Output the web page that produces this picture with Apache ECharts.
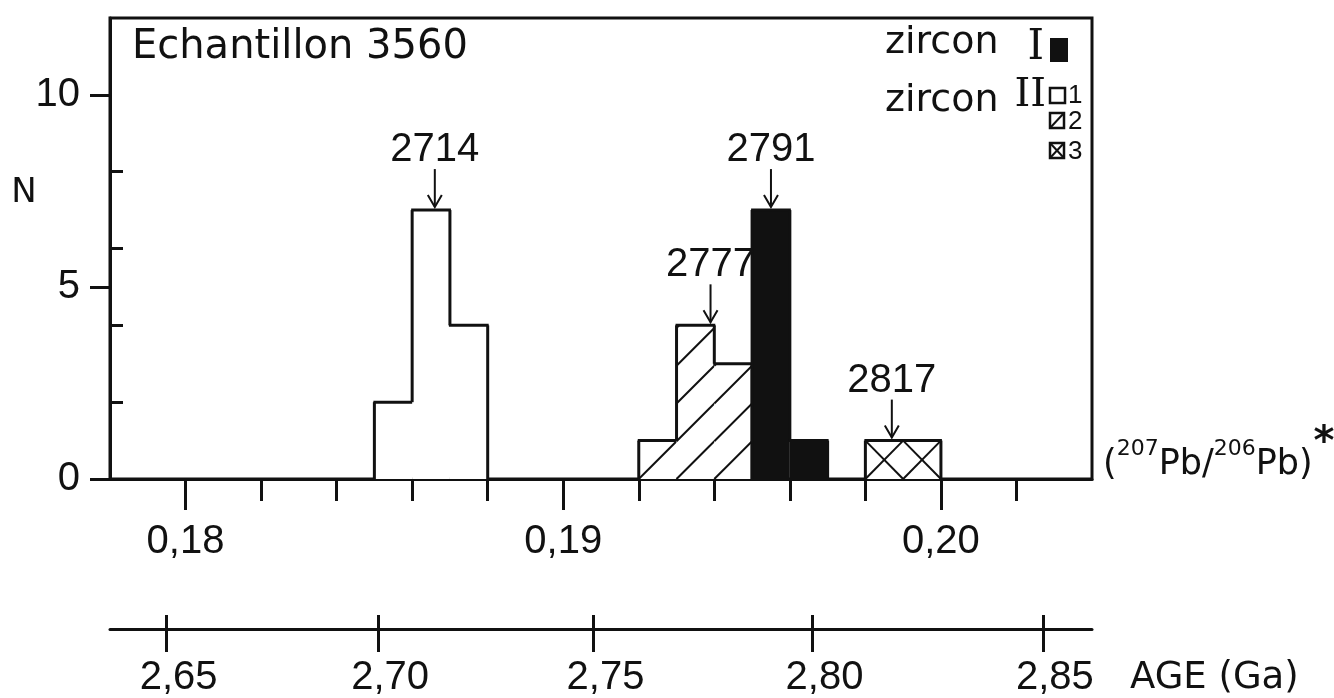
<!DOCTYPE html>
<html><head><meta charset="utf-8">
<script src="https://cdn.jsdelivr.net/npm/echarts@6/dist/echarts.min.js"></script>
<style>html,body{margin:0;padding:0;background:#fff;} #c{width:1334px;height:698px;}</style>
</head><body><div id="c"></div>
<script>
// ---- data ----
const binWidth = 0.001;
const zircon2Type1Bins = [0.185, 0.186, 0.187];
const zircon2Type1Counts = [2, 7, 4];
const zircon2Type2Bins = [0.192, 0.193, 0.194];
const zircon2Type2Counts = [1, 4, 3];
const zircon1Bins = [0.195, 0.196];
const zircon1Counts = [7, 1];
const zircon2Type3Bins = [0.198, 0.199];
const zircon2Type3Counts = [1, 1];
const peakRatios = [0.1866, 0.1939, 0.1955, 0.1987];
const peakCounts = [7, 4, 7, 1];
const peakAges = ['2714', '2777', '2791', '2817'];
const ratioMin = 0.178, ratioMax = 0.204;
const ratioMajorTicks = [0.18, 0.19, 0.20];
const ratioTickLabels = ['0,18', '0,19', '0,20'];
const ratioMinorTicks = [0.182, 0.184, 0.186, 0.188, 0.192, 0.194, 0.196, 0.198, 0.202];
const ageTickRatios = [0.1795, 0.1851, 0.1908, 0.1966, 0.2027];
const ageTickLabels = ['2,65', '2,70', '2,75', '2,80', '2,85'];
const countMax = 12;
const countMajorTicks = [0, 5, 10];
const countMinorTicks = [2, 4, 6, 8];

// ---- style ----
const INK = '#111';
const NUM_FONT = "'Liberation Sans Narrow', 'Liberation Sans', sans-serif";
const TXT_FONT = "'DejaVu Sans', sans-serif";

function lookup(v, keys, labels) {
  for (let i = 0; i < keys.length; i++) if (Math.abs(v - keys[i]) < 1e-6) return labels[i];
  return '';
}

function histSeries(name, bins, counts, kind) {
  return {
    type: 'custom', name: name, coordinateSystem: 'cartesian2d', xAxisIndex: 0, yAxisIndex: 0,
    data: bins.map((b, i) => [b, counts[i]]),
    encode: { x: 0, y: 1 }, clip: false, silent: true, z: 5,
    renderItem: function (params, api) {
      const i = params.dataIndex;
      const x0 = api.value(0), h = api.value(1);
      const pA = api.coord([x0, 0]);
      const pB = api.coord([x0 + binWidth, h]);
      const left = pA[0], right = pB[0], base = pA[1], top = pB[1];
      const w = right - left, ht = base - top;
      const ch = [];
      ch.push({ type: 'rect', shape: { x: left, y: top, width: w, height: ht },
        style: { fill: kind === 'solid' ? INK : '#fff', stroke: null } });
      if (kind === 'hatch') {
        for (let k = -Math.ceil(ht / w) - 1; k <= 1; k++) {
          const c = left + k * w + base;
          const xs = Math.max(left, c - base), xe = Math.min(right, c - top);
          if (xe > xs) ch.push({ type: 'line', shape: { x1: xs, y1: c - xs, x2: xe, y2: c - xe },
            style: { stroke: INK, lineWidth: 2 } });
        }
      }
      if (kind === 'cross') {
        ch.push({ type: 'line', shape: { x1: left, y1: top, x2: right, y2: base }, style: { stroke: INK, lineWidth: 2 } });
        ch.push({ type: 'line', shape: { x1: left, y1: base, x2: right, y2: top }, style: { stroke: INK, lineWidth: 2 } });
      }
      const prevH = i > 0 ? counts[i - 1] : 0;
      const yPrev = api.coord([x0, prevH])[1];
      ch.push({ type: 'line', shape: { x1: left, y1: yPrev, x2: left, y2: top }, style: { stroke: INK, lineWidth: 3 } });
      ch.push({ type: 'line', shape: { x1: left - 1, y1: top, x2: right + 1, y2: top }, style: { stroke: INK, lineWidth: 3 } });
      if (i === bins.length - 1) {
        ch.push({ type: 'line', shape: { x1: right, y1: top, x2: right, y2: base }, style: { stroke: INK, lineWidth: 3 } });
      }
      return { type: 'group', children: ch };
    }
  };
}

const peakSeries = {
  type: 'custom', name: 'peaks', coordinateSystem: 'cartesian2d', xAxisIndex: 0, yAxisIndex: 0,
  data: peakRatios.map((r, i) => [r, peakCounts[i]]),
  encode: { x: 0, y: 1 }, clip: false, silent: true, z: 6,
  renderItem: function (params, api) {
    const p = api.coord([api.value(0), api.value(1)]);
    const x = p[0], tip = p[1] - 3, start = tip - 38;
    return { type: 'group', children: [
      { type: 'line', shape: { x1: x, y1: start, x2: x, y2: tip }, style: { stroke: INK, lineWidth: 2 } },
      { type: 'polyline', shape: { points: [[x - 7, tip - 12], [x, tip], [x + 7, tip - 12]] }, style: { stroke: INK, lineWidth: 2, fill: null } },
      { type: 'text', x: x, y: start + 1, style: { text: peakAges[params.dataIndex], font: '40px ' + NUM_FONT,
        fill: INK, align: 'center', verticalAlign: 'bottom' } }
    ] };
  }
};

const axisLineStyle = { color: INK, width: 3 };
const option = {
  backgroundColor: '#fff',
  animation: false,
  grid: [
    { left: 110, right: 242, top: 18, bottom: 219, show: true, borderColor: INK, borderWidth: 3, backgroundColor: 'transparent' },
    { left: 110, right: 242, top: 628, height: 1, show: false }
  ],
  xAxis: [
    { type: 'value', gridIndex: 0, min: ratioMin, max: ratioMax, position: 'bottom',
      axisLine: { show: true, onZero: false, lineStyle: axisLineStyle },
      axisTick: { show: true, customValues: ratioMajorTicks, length: 31, lineStyle: { color: INK, width: 3 } },
      axisLabel: { show: true, customValues: ratioMajorTicks, margin: 43, color: INK, fontSize: 40, fontFamily: NUM_FONT,
        formatter: v => lookup(v, ratioMajorTicks, ratioTickLabels) },
      splitLine: { show: false } },
    { type: 'value', gridIndex: 0, min: ratioMin, max: ratioMax, position: 'bottom',
      axisLine: { show: false, onZero: false },
      axisTick: { show: true, customValues: ratioMinorTicks, length: 22, lineStyle: { color: INK, width: 3 } },
      axisLabel: { show: false }, splitLine: { show: false } },
    { type: 'value', gridIndex: 1, min: ratioMin, max: ratioMax, position: 'bottom',
      axisLine: { show: true, onZero: false, lineStyle: axisLineStyle },
      axisTick: { show: true, customValues: ageTickRatios, length: 23, lineStyle: { color: INK, width: 3 } },
      axisLabel: { show: true, customValues: ageTickRatios, margin: 29, color: INK, fontSize: 40, fontFamily: NUM_FONT,
        padding: [0, 0, 0, 24], formatter: v => lookup(v, ageTickRatios, ageTickLabels) },
      splitLine: { show: false } },
    { type: 'value', gridIndex: 1, min: ratioMin, max: ratioMax, position: 'bottom',
      axisLine: { show: false, onZero: false },
      axisTick: { show: true, inside: true, customValues: ageTickRatios, length: 14, lineStyle: { color: INK, width: 3 } },
      axisLabel: { show: false }, splitLine: { show: false } }
  ],
  yAxis: [
    { type: 'value', gridIndex: 0, min: 0, max: countMax, position: 'left',
      axisLine: { show: true, onZero: false, lineStyle: axisLineStyle },
      axisTick: { show: true, customValues: countMajorTicks, length: 20, lineStyle: { color: INK, width: 3 } },
      axisLabel: { show: true, customValues: countMajorTicks, margin: 30, color: INK, fontSize: 40, fontFamily: NUM_FONT },
      splitLine: { show: false } },
    { type: 'value', gridIndex: 0, min: 0, max: countMax, position: 'left',
      axisLine: { show: false, onZero: false },
      axisTick: { show: true, inside: true, customValues: countMinorTicks, length: 13, lineStyle: { color: INK, width: 3 } },
      axisLabel: { show: false }, splitLine: { show: false } },
    { type: 'value', gridIndex: 1, min: 0, max: 1, show: false }
  ],
  series: [
    histSeries('zircon II 1', zircon2Type1Bins, zircon2Type1Counts, 'open'),
    histSeries('zircon II 2', zircon2Type2Bins, zircon2Type2Counts, 'hatch'),
    histSeries('zircon I', zircon1Bins, zircon1Counts, 'solid'),
    histSeries('zircon II 3', zircon2Type3Bins, zircon2Type3Counts, 'cross'),
    peakSeries
  ],
  graphic: [
    { type: 'text', x: 132, y: 48, style: { text: 'Echantillon 3560', font: '40px ' + TXT_FONT, fill: INK, align: 'left', verticalAlign: 'middle' } },
    { type: 'text', x: 24, y: 193, style: { text: 'N', font: '34px ' + TXT_FONT, fill: INK, align: 'center', verticalAlign: 'middle' } },
    { type: 'text', x: 885, y: 43, style: { text: 'zircon', font: '38px ' + TXT_FONT, fill: INK, align: 'left', verticalAlign: 'middle' } },
    { type: 'text', x: 1044, y: 48, style: { text: 'I', font: '42px "DejaVu Serif", serif', fill: INK, align: 'right', verticalAlign: 'middle' } },
    { type: 'text', x: 885, y: 101, style: { text: 'zircon', font: '38px ' + TXT_FONT, fill: INK, align: 'left', verticalAlign: 'middle' } },
    { type: 'text', x: 1046, y: 96, style: { text: 'II', font: '40px "DejaVu Serif", serif', fill: INK, align: 'right', verticalAlign: 'middle' } },
    { type: 'rect', shape: { x: 1050, y: 38, width: 18, height: 24 }, style: { fill: INK } },
    { type: 'rect', shape: { x: 1050, y: 88, width: 15, height: 15 }, style: { fill: '#fff', stroke: INK, lineWidth: 2.5 } },
    { type: 'rect', shape: { x: 1050, y: 113, width: 14, height: 15 }, style: { fill: '#fff', stroke: INK, lineWidth: 2.5 } },
    { type: 'line', shape: { x1: 1050, y1: 128, x2: 1064, y2: 113 }, style: { stroke: INK, lineWidth: 2 } },
    { type: 'rect', shape: { x: 1050, y: 143, width: 14, height: 15 }, style: { fill: '#fff', stroke: INK, lineWidth: 2.5 } },
    { type: 'line', shape: { x1: 1050, y1: 143, x2: 1064, y2: 158 }, style: { stroke: INK, lineWidth: 2 } },
    { type: 'line', shape: { x1: 1050, y1: 158, x2: 1064, y2: 143 }, style: { stroke: INK, lineWidth: 2 } },
    { type: 'text', x: 1068, y: 96, style: { text: '1', font: '26px ' + NUM_FONT, fill: INK, align: 'left', verticalAlign: 'middle' } },
    { type: 'text', x: 1068, y: 122, style: { text: '2', font: '26px ' + NUM_FONT, fill: INK, align: 'left', verticalAlign: 'middle' } },
    { type: 'text', x: 1068, y: 152, style: { text: '3', font: '26px ' + NUM_FONT, fill: INK, align: 'left', verticalAlign: 'middle' } },
    { type: 'text', x: 1103, y: 460, style: {
        text: '{n|(}{s|207}{n|Pb/}{s|206}{n|Pb)}', fill: INK, align: 'left', verticalAlign: 'middle',
        rich: {
          n: { fontSize: 35, fontFamily: 'DejaVu Sans', lineHeight: 44, verticalAlign: 'bottom', fill: INK },
          s: { fontSize: 22, fontFamily: 'DejaVu Sans', lineHeight: 22, verticalAlign: 'top', fill: INK }
        } } },
    { type: 'text', x: 1324, y: 444, style: { text: '*', font: 'bold 40px ' + TXT_FONT, fill: INK, align: 'center', verticalAlign: 'middle' } },
    { type: 'text', x: 1130, y: 678, style: { text: 'AGE (Ga)', font: '37px ' + TXT_FONT, fill: INK, align: 'left', verticalAlign: 'middle' } }
  ]
};
const chart = echarts.init(document.getElementById('c'), null, { renderer: 'canvas' });
chart.setOption(option);
</script>
</body></html>
